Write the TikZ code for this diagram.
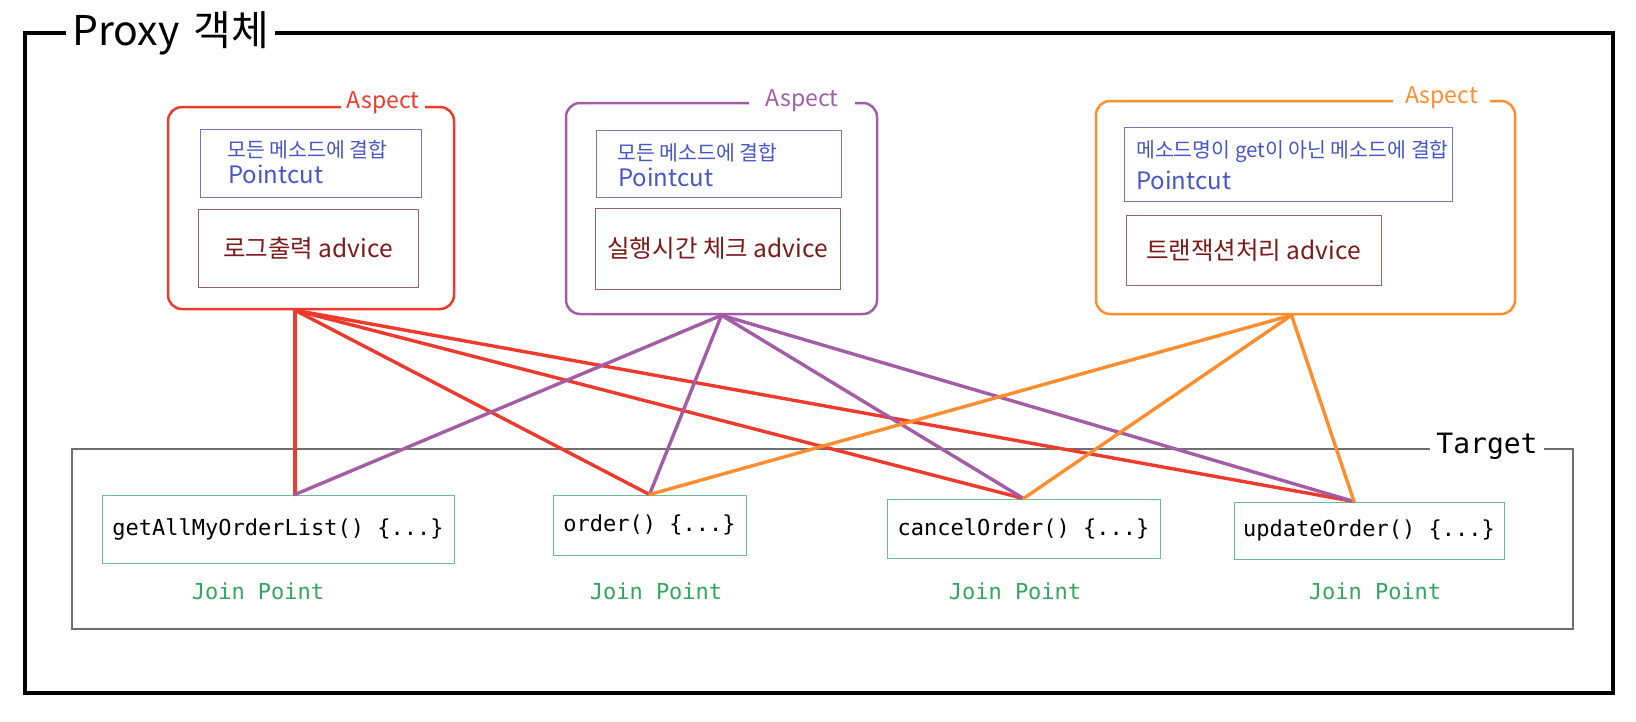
\documentclass[tikz,border=0pt]{standalone}
\usepackage{fontspec}
\newfontfamily\kr{Noto Sans CJK KR}
\setmonofont{DejaVu Sans Mono}
\definecolor{aspRed}{RGB}{238,58,45}
\definecolor{aspPurple}{RGB}{163,93,166}
\definecolor{aspOrange}{RGB}{255,140,45}
\definecolor{pcBlue}{RGB}{70,85,200}
\definecolor{pcLine}{RGB}{115,120,190}
\definecolor{advRed}{RGB}{125,25,25}
\definecolor{advLine}{RGB}{150,100,100}
\definecolor{jpGreen}{RGB}{50,165,95}
\definecolor{jpLine}{RGB}{110,185,150}
\definecolor{tgtGray}{RGB}{110,110,110}
\begin{document}
\begin{tikzpicture}[x=1pt,y=-1pt,
	asp/.style={draw,rounded corners=14pt,line width=2.5pt,inner sep=0pt},
	asplbl/.style={fill=white,inner xsep=6pt,inner ysep=2pt,anchor=base,font=\kr\fontsize{23}{26}\selectfont},
	pc/.style={draw=pcLine,line width=1pt,inner sep=0pt},
	pctxt/.style={anchor=base west,inner sep=0pt,text=pcBlue},
	adv/.style={draw=advLine,line width=1pt,inner sep=0pt,text=advRed,font=\kr\fontsize{24.5}{28}\selectfont},
	jp/.style={draw=jpLine,line width=1pt,inner sep=0pt,font=\ttfamily\fontsize{22}{26}\selectfont},
	jplbl/.style={text=jpGreen,font=\ttfamily\fontsize{22}{26}\selectfont},
	link/.style={line width=3.4pt,line cap=round}]
	\useasboundingbox (0,0) rectangle (1636,721);
	% Proxy
	\draw[line width=4pt] (25,33) rectangle (1613,693);
	\node[fill=white,anchor=base west,inner xsep=6pt,font=\kr\fontsize{41}{46}\selectfont] (proxy) at (66,45) {Proxy\hspace{14pt}객체};
	% Aspect
	\path
	(311,208) node[asp,draw=aspRed,minimum width=286pt,minimum height=202pt] (logAsp) {}
	(721.5,208.5) node[asp,draw=aspPurple,minimum width=311pt,minimum height=211pt] (timeAsp) {}
	(1305.5,207.5) node[asp,draw=aspOrange,minimum width=419pt,minimum height=213pt] (txAsp) {}
	(383,108) node[asplbl,text=aspRed] (logLbl) {Aspect}
	(802,106) node[asplbl,text=aspPurple,inner xsep=17pt] (timeLbl) {Aspect}
	(1441.5,103) node[asplbl,text=aspOrange,inner xsep=12pt] (txLbl) {Aspect}
	;
	% Pointcut
	\path
	(310.5,163) node[pc,minimum width=221pt,minimum height=68pt] (logPc) {}
	(718.5,163.5) node[pc,minimum width=245pt,minimum height=67pt] (timePc) {}
	(1288,164) node[pc,minimum width=328pt,minimum height=74pt] (txPc) {}
	(227,157) node[pctxt,font=\kr\fontsize{20.5}{22}\selectfont] (logPcA) {모든 메소드에 결합}
	(228,183) node[pctxt,font=\kr\fontsize{24}{28}\selectfont] (logPcB) {Pointcut}
	(617,160) node[pctxt,font=\kr\fontsize{20.5}{22}\selectfont] (timePcA) {모든 메소드에 결합}
	(618,186) node[pctxt,font=\kr\fontsize{24}{28}\selectfont] (timePcB) {Pointcut}
	(1136,157) node[pctxt,font=\kr\fontsize{20.5}{22}\selectfont] (txPcA) {메소드명이 get이 아닌 메소드에 결합}
	(1136,189) node[pctxt,font=\kr\fontsize{24}{28}\selectfont] (txPcB) {Pointcut}
	;
	% advice
	\path
	(308,248) node[adv,minimum width=220pt,minimum height=78pt] (logAdv) {로그출력 advice}
	(717.5,248.5) node[adv,minimum width=245pt,minimum height=81pt] (timeAdv) {실행시간 체크 advice}
	(1253.5,250) node[adv,minimum width=255pt,minimum height=70pt] (txAdv) {트랜잭션처리 advice}
	;
	% Target
	\draw[tgtGray,line width=1.2pt] (72,449) rectangle (1573,629);
	\node[fill=white,inner xsep=6pt,font=\ttfamily\fontsize{28}{32}\selectfont] (target) at (1487,446) {Target};
	\path
	(278,529) node[jp,minimum width=352pt,minimum height=68pt] (getAll) {getAllMyOrderList() \{...\}}
	(649.5,525) node[jp,minimum width=193pt,minimum height=60pt] (order) {order() \{...\}}
	(1023.5,528.5) node[jp,minimum width=273pt,minimum height=59pt] (cancel) {cancelOrder() \{...\}}
	(1369,530.5) node[jp,minimum width=270pt,minimum height=57pt] (update) {updateOrder() \{...\}}
	(258,591) node[jplbl] (jpA) {Join Point}
	(656,591) node[jplbl] (jpB) {Join Point}
	(1015,591) node[jplbl] (jpC) {Join Point}
	(1375,591) node[jplbl] (jpD) {Join Point}
	;
	% weaving
	\draw[link,aspRed] ([xshift=-16pt]logAsp.south)--([xshift=17pt]getAll.north);
	\draw[link,aspRed] ([xshift=-16pt]logAsp.south)--(order.north);
	\draw[link,aspRed] ([xshift=-16pt]logAsp.south)--(cancel.north);
	\draw[link,aspRed] ([xshift=-16pt]logAsp.south)--([xshift=-15pt]update.north);
	\draw[link,aspPurple] (timeAsp.south)--([xshift=17pt]getAll.north);
	\draw[link,aspPurple] (timeAsp.south)--(order.north);
	\draw[link,aspPurple] (timeAsp.south)--(cancel.north);
	\draw[link,aspPurple] (timeAsp.south)--([xshift=-15pt]update.north);
	\draw[link,aspOrange] ([xshift=-14pt]txAsp.south)--(order.north);
	\draw[link,aspOrange] ([xshift=-14pt]txAsp.south)--(cancel.north);
	\draw[link,aspOrange] ([xshift=-14pt]txAsp.south)--([xshift=-15pt]update.north);
\end{tikzpicture}
\end{document}
